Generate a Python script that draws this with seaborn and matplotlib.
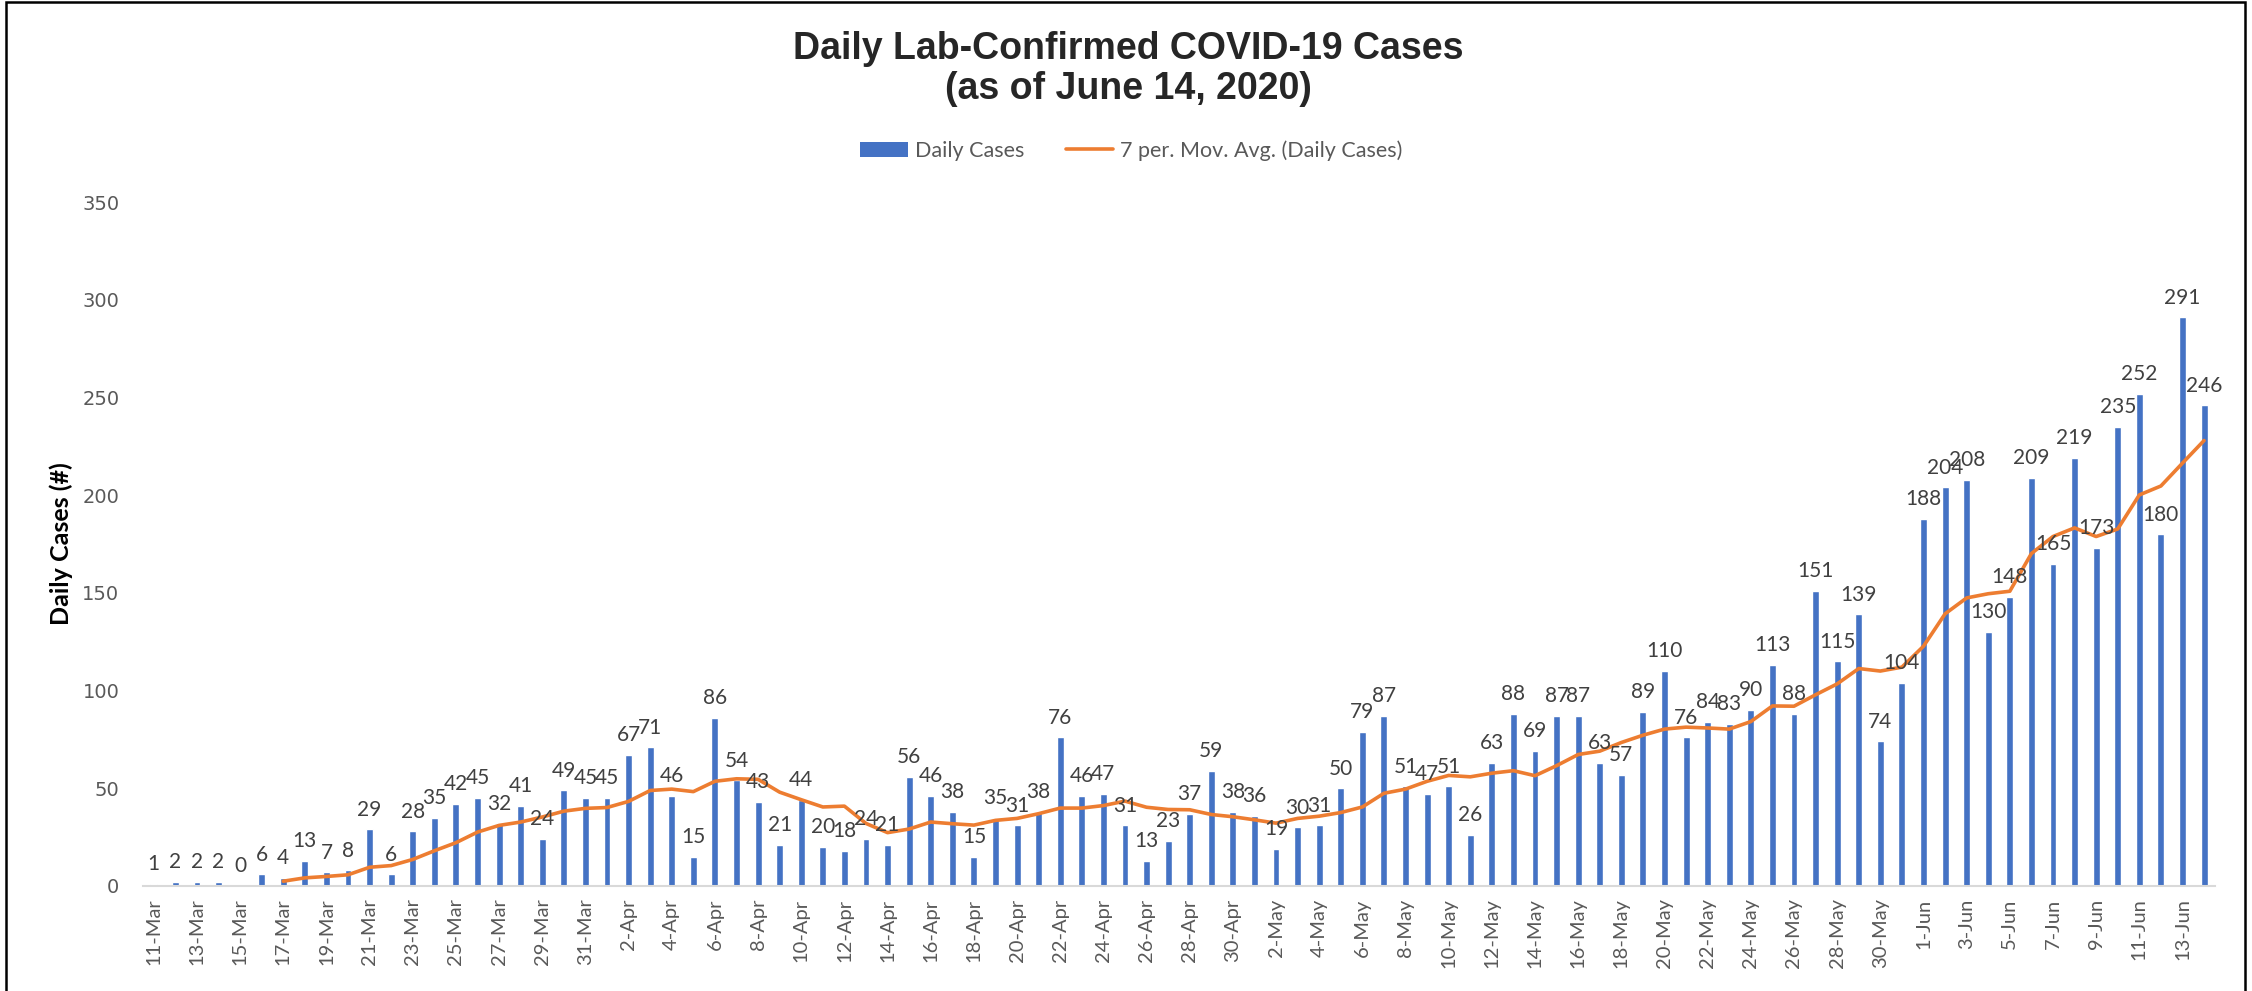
import numpy as np
import pandas as pd
import matplotlib
matplotlib.use("Agg")
import matplotlib.pyplot as plt
import seaborn as sns
from matplotlib.patches import Patch, Rectangle
from matplotlib.lines import Line2D

# Daily lab-confirmed cases, 11 Mar - 14 Jun 2020
march_days = list(range(11, 32))
april_days = list(range(1, 31))
may_days = list(range(1, 32))
june_days = list(range(1, 15))

march_cases = [1, 2, 2, 2, 0, 6, 4, 13, 7, 8, 29, 6, 28, 35, 42, 45, 32, 41, 24, 49, 45]
april_cases = [45, 67, 71, 46, 15, 86, 54, 43, 21, 44, 20, 18, 24, 21, 56, 46, 38, 15, 35, 31,
               38, 76, 46, 47, 31, 13, 23, 37, 59, 38]
may_cases = [36, 19, 30, 31, 50, 79, 87, 51, 47, 51, 26, 63, 88, 69, 87, 87, 63, 57, 89, 110,
             76, 84, 83, 90, 113, 88, 151, 115, 139, 74, 104]
june_cases = [188, 204, 208, 130, 148, 209, 165, 219, 173, 235, 252, 180, 291, 246]

date_labels = ([f"{d}-Mar" for d in march_days] + [f"{d}-Apr" for d in april_days]
               + [f"{d}-May" for d in may_days] + [f"{d}-Jun" for d in june_days])
daily_cases = march_cases + april_cases + may_cases + june_cases

BAR_COLOR = "#4472C4"
LINE_COLOR = "#ED7D31"
TEXT_GRAY = "#595959"
LABEL_GRAY = "#404040"
AXIS_GRAY = "#D9D9D9"

df = pd.DataFrame({"date": date_labels, "cases": daily_cases})
df["pos"] = np.arange(len(df))
# Excel-style trailing 7 period moving average trendline
df["avg"] = df["cases"].rolling(7).mean()

sns.set_style("white")
plt.rcParams["font.family"] = ["Lato", "DejaVu Sans"]

fig = plt.figure(figsize=(22.52, 9.91), dpi=100)
ax = fig.add_axes([0.0635, 0.106, 0.92, 0.690])

sns.barplot(data=df, x="pos", y="cases", native_scale=True, width=0.32,
            color=BAR_COLOR, saturation=1, ax=ax)
sns.lineplot(data=df.dropna(), x="pos", y="avg", color=LINE_COLOR, lw=2.6, ax=ax)

ax.bar_label(ax.containers[0], labels=[str(v) for v in df["cases"]],
             padding=7, fontsize=15, color=LABEL_GRAY)

ax.set_xlim(-0.5, len(df) - 0.5)
ax.set_ylim(0, 350)
ax.set_yticks(np.arange(0, 351, 50))
ax.set_xticks(df["pos"][::2], df["date"][::2], rotation=90)
ax.set_xticks(np.arange(-0.5, len(df), 2), minor=True)
ax.tick_params(axis="x", which="major", length=0, pad=9, labelsize=14.5, labelcolor=TEXT_GRAY)
ax.tick_params(axis="x", which="minor", length=6, width=1.5, color=AXIS_GRAY)
ax.tick_params(axis="y", length=0, pad=17, labelsize=14, labelcolor=TEXT_GRAY)
for lbl in ax.get_yticklabels():
    lbl.set_fontfamily("DejaVu Sans")

for side in ["top", "right", "left"]:
    ax.spines[side].set_visible(False)
ax.spines["bottom"].set_color(AXIS_GRAY)
ax.spines["bottom"].set_linewidth(1.5)

ax.set_xlabel("")
ax.set_ylabel("Daily Cases (#)", fontsize=18, fontweight="bold", color="black")
ax.yaxis.set_label_coords(-0.034, 0.5)

fig.text(0.501, 0.930, "Daily Lab-Confirmed COVID-19 Cases\n(as of June 14, 2020)",
         ha="center", va="center", fontsize=27, fontweight="bold",
         family=["Liberation Sans", "DejaVu Sans"], linespacing=1.15)

handles = [Patch(facecolor=BAR_COLOR, edgecolor="none"),
           Line2D([0], [0], color=LINE_COLOR, lw=2.6)]
fig.legend(handles, ["Daily Cases", "7 per. Mov. Avg. (Daily Cases)"],
           loc="center", bbox_to_anchor=(0.5025, 0.848), ncol=2, frameon=False,
           fontsize=15.5, labelcolor=TEXT_GRAY, handlelength=2.2, handleheight=0.7,
           handletextpad=0.35, columnspacing=1.9)

# chart frame
fig.add_artist(Rectangle((6 / 2252, -0.05), 2239 / 2252, 1.048, transform=fig.transFigure,
                         fill=False, edgecolor="black", lw=1.8, clip_on=False))

fig.savefig("out.png", dpi=100)
plt.close(fig)
